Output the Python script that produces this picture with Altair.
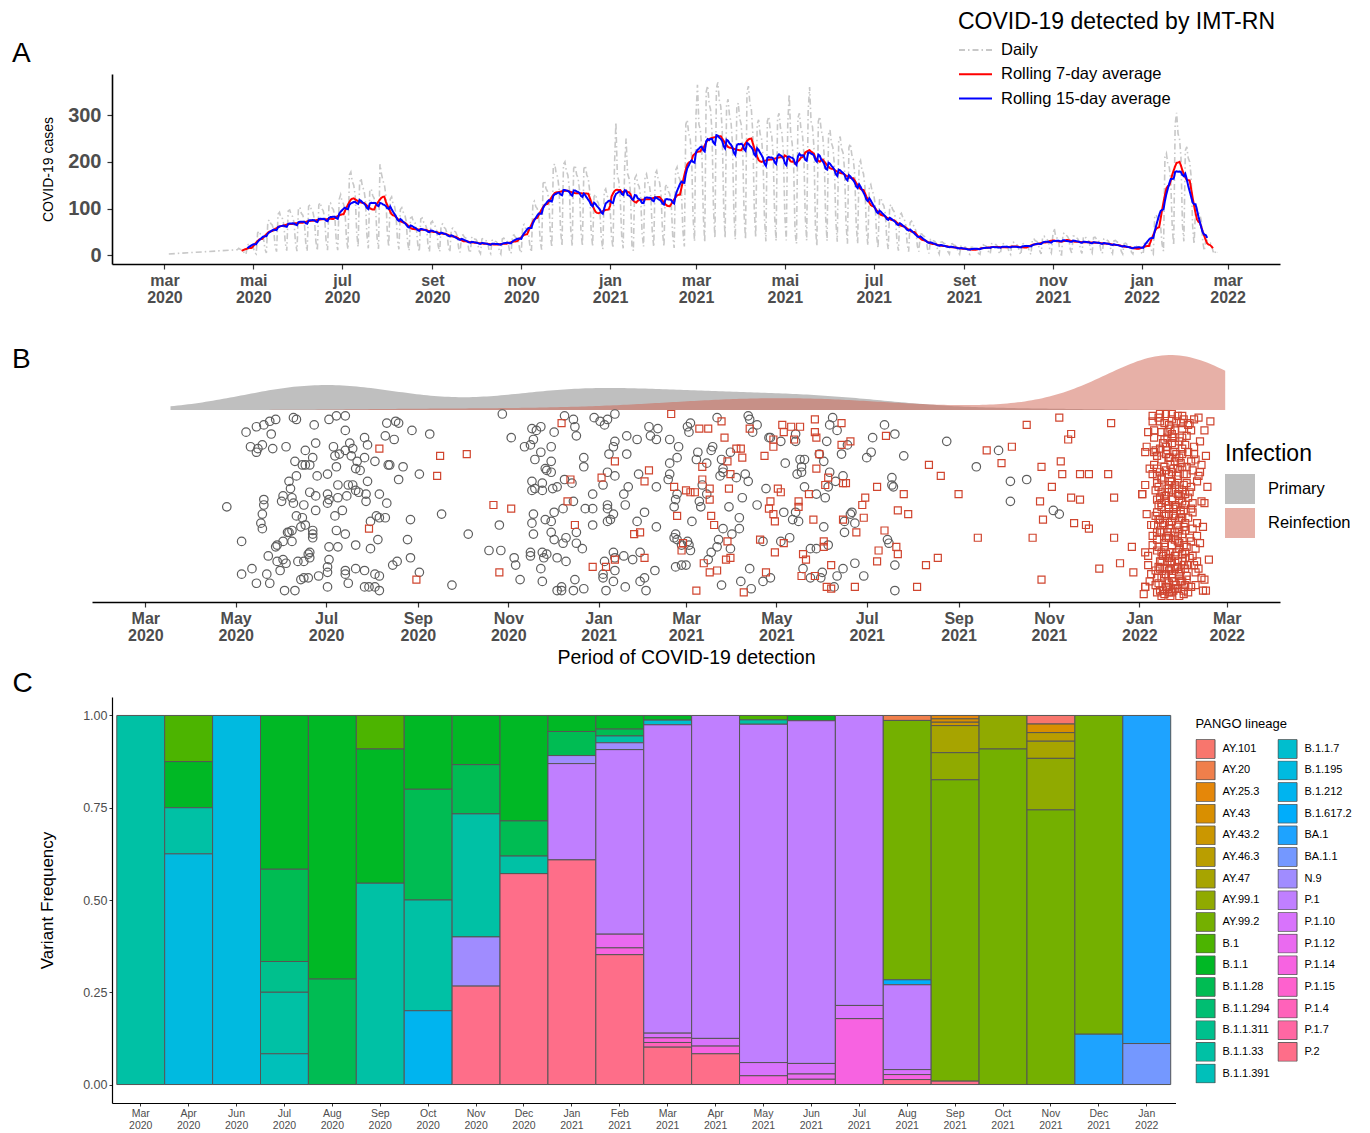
import math
import altair as alt
import pandas as pd

FONT = "Liberation Sans, Arial, Helvetica, sans-serif"

# ---------------- Panel A : daily COVID-19 cases ----------------
A_EARLY_DATES = ["2020-03-04"]
A_EARLY_CASES = [3]
A_DAILY_START = "2020-04-20"          # a Monday; weekly rows Mon..Sun
A_WEEKS = [
    [12, 15, 13, 12, 10, 4, 2], [22, 24, 20, 20, 17, 6, 3], [48, 52, 45, 44, 37, 14, 5],
    [72, 76, 68, 65, 55, 20, 8], [88, 92, 80, 79, 66, 26, 10], [95, 97, 88, 83, 70, 27, 9],
    [100, 103, 90, 86, 74, 28, 9], [105, 108, 96, 92, 77, 30, 10], [108, 113, 100, 96, 81, 31, 11],
    [110, 112, 102, 98, 83, 30, 11], [120, 130, 115, 110, 93, 35, 13], [172, 178, 158, 150, 128, 50, 18],
    [155, 165, 146, 140, 118, 45, 15], [140, 142, 128, 122, 102, 38, 14], [195, 175, 160, 152, 130, 50, 18],
    [120, 125, 110, 105, 88, 34, 13], [98, 102, 92, 88, 73, 27, 10], [80, 82, 72, 70, 58, 22, 8],
    [78, 80, 71, 68, 58, 22, 8], [70, 73, 65, 62, 52, 20, 8], [65, 67, 60, 57, 48, 18, 7],
    [56, 58, 52, 50, 42, 16, 6], [42, 44, 39, 37, 31, 12, 5], [38, 40, 35, 34, 28, 10, 4],
    [35, 36, 33, 31, 26, 10, 4], [32, 34, 30, 29, 24, 9, 3], [35, 37, 32, 31, 26, 10, 4],
    [42, 44, 39, 37, 31, 12, 5], [63, 66, 58, 56, 47, 18, 7], [112, 116, 104, 100, 84, 32, 12],
    [154, 160, 143, 137, 115, 44, 17], [190, 196, 175, 168, 142, 54, 20], [195, 200, 180, 172, 145, 55, 19],
    [186, 193, 173, 166, 140, 53, 20], [185, 192, 172, 165, 138, 53, 19], [126, 131, 117, 112, 95, 36, 13],
    [137, 142, 127, 122, 103, 39, 16], [190, 285, 170, 160, 120, 40, 15], [190, 250, 175, 165, 135, 20, 10],
    [165, 171, 153, 147, 124, 47, 19], [168, 174, 156, 150, 126, 48, 18], [175, 181, 163, 156, 131, 50, 19],
    [147, 152, 137, 131, 110, 42, 16], [182, 189, 169, 162, 137, 52, 19], [280, 290, 260, 250, 210, 80, 30],
    [301, 365, 280, 269, 226, 86, 28], [350, 363, 325, 312, 263, 100, 37], [357, 370, 332, 319, 268, 102, 37],
    [322, 334, 299, 287, 242, 92, 34], [315, 326, 293, 281, 236, 90, 34], [350, 362, 325, 313, 262, 100, 38],
    [280, 290, 260, 250, 210, 80, 30], [287, 297, 267, 256, 215, 82, 31], [294, 304, 273, 262, 221, 84, 32],
    [280, 345, 260, 240, 200, 50, 25], [294, 304, 273, 262, 221, 84, 32], [308, 360, 286, 275, 231, 60, 20],
    [287, 297, 267, 256, 215, 82, 31], [259, 268, 240, 231, 194, 74, 29], [245, 254, 228, 219, 184, 70, 25],
    [231, 239, 215, 206, 173, 66, 25], [196, 203, 182, 175, 147, 56, 21], [147, 152, 137, 131, 110, 42, 16],
    [119, 123, 111, 106, 89, 34, 13], [105, 109, 98, 94, 79, 30, 10], [87, 90, 81, 78, 65, 25, 8],
    [70, 73, 65, 62, 52, 20, 8], [45, 46, 42, 40, 34, 13, 4], [34, 35, 31, 30, 25, 10, 3],
    [28, 29, 26, 25, 21, 8, 3], [24, 25, 22, 21, 18, 7, 2], [20, 20, 18, 18, 15, 5, 2],
    [17, 17, 16, 15, 13, 4, 2], [22, 23, 21, 20, 17, 6, 3], [25, 26, 23, 23, 19, 7, 3],
    [24, 25, 22, 21, 18, 7, 2], [27, 28, 25, 24, 20, 8, 1], [24, 25, 22, 21, 18, 7, 2],
    [34, 35, 31, 30, 25, 10, 3], [39, 41, 36, 35, 29, 11, 5], [42, 58, 39, 37, 31, 2, 1],
    [46, 48, 43, 41, 35, 13, 5], [41, 42, 38, 36, 30, 12, 4], [39, 41, 36, 35, 29, 11, 5],
    [38, 39, 35, 34, 28, 11, 4], [35, 36, 33, 31, 26, 10, 4], [31, 32, 29, 27, 23, 9, 3],
    [25, 26, 23, 23, 19, 7, 3], [20, 20, 18, 18, 15, 5, 2], [28, 29, 26, 25, 21, 8, 3],
    [84, 87, 78, 75, 63, 24, 9], [210, 218, 195, 188, 158, 60, 21], [280, 305, 260, 250, 210, 65, 30],
    [224, 232, 208, 200, 168, 64, 24], [98, 102, 91, 88, 73, 28, 10], [31, 32, 29, 27, 23, 9, 3],
]
A_TAIL = [10, 6]
A_SERIES = ["Daily", "Rolling 7-day average", "Rolling 15-day average"]
A_COLORS = ["#C8C8C8", "#FF0000", "#0000FF"]
PT_MONTHS = ["jan", "fev", "mar", "abr", "mai", "jun", "jul", "ago", "set", "out", "nov", "dez"]
EN_MONTHS = ["Jan", "Feb", "Mar", "Apr", "May", "Jun", "Jul", "Aug", "Sep", "Oct", "Nov", "Dec"]

# ---------------- Panel B : detections (day since 2020-03-01, vertical jitter 0-100) ----------------
INFECTION = ["Primary", "Reinfection"]
PRIMARY_POINTS = [
    (55, 49), (68, 90), (75, 93), (80, 94), (84, 96), (88, 97), (85, 89), (100, 98), (102, 97), (114, 94),
    (124, 97), (129, 99), (135, 99), (135, 91), (148, 87), (150, 83), (163, 95), (169, 96), (171, 95), (162, 88),
    (168, 86), (180, 91), (71, 82), (75, 79), (76, 81), (79, 83), (86, 81), (95, 82), (108, 80), (115, 84),
    (127, 82), (128, 77), (135, 80), (138, 84), (140, 81), (139, 77), (131, 78), (148, 76), (155, 74), (164, 72),
    (165, 72), (174, 71), (185, 67), (171, 64), (101, 74), (106, 72), (108, 72), (111, 72), (113, 76), (129, 71),
    (143, 74), (142, 70), (145, 69), (150, 63), (102, 66), (97, 63), (98, 59), (116, 66), (123, 67), (130, 61),
    (137, 61), (140, 61), (142, 58), (144, 57), (149, 56), (158, 56), (80, 53), (80, 50), (79, 45), (78, 40),
    (79, 37), (93, 55), (92, 52), (99, 54), (100, 51), (107, 50), (111, 57), (115, 55), (115, 47), (123, 56),
    (124, 53), (123, 51), (130, 54), (136, 55), (149, 52), (163, 51), (133, 47), (128, 44), (102, 44), (106, 43),
    (156, 44), (158, 43), (162, 43), (179, 42), (152, 41), (105, 38), (108, 39), (113, 36), (113, 34), (113, 32),
    (99, 36), (97, 35), (96, 35), (129, 36), (135, 34), (157, 31), (177, 31), (65, 30), (89, 28), (88, 27),
    (93, 30), (99, 30), (111, 24), (110, 23), (111, 21), (124, 27), (130, 27), (142, 28), (152, 26), (83, 22),
    (89, 19), (93, 20), (95, 18), (103, 19), (107, 19), (124, 20), (123, 16), (170, 19), (167, 17), (179, 21),
    (185, 13), (65, 12), (72, 15), (82, 12), (75, 7), (84, 7), (91, 14), (107, 10), (110, 10), (105, 9),
    (117, 11), (123, 13), (135, 14), (135, 12), (137, 7), (142, 15), (148, 14), (155, 12), (158, 11), (148, 5),
    (151, 5), (155, 5), (158, 3), (94, 3), (101, 3), (123, 5),
    (192, 89), (241, 100), (247, 87), (200, 45), (218, 34), (239, 39), (232, 25), (240, 25), (207, 6), (249, 21),
    (250, 17), (253, 9), (256, 82), (260, 83), (262, 86), (261, 92), (264, 91), (267, 93), (276, 90), (283, 99),
    (289, 97), (290, 93), (291, 88), (303, 98), (307, 96), (310, 94), (312, 97), (317, 100), (317, 85), (316, 82),
    (325, 88), (267, 79), (263, 75), (274, 82), (274, 74), (270, 70), (271, 69), (274, 68), (296, 76), (296, 71),
    (313, 78), (312, 68), (317, 66), (325, 78), (261, 63), (268, 62), (261, 58), (263, 59), (268, 58), (275, 59),
    (278, 60), (283, 64), (288, 62), (309, 61), (302, 56), (323, 56), (326, 60), (289, 52), (282, 48), (276, 46),
    (262, 45), (297, 48), (302, 48), (312, 50), (312, 48), (316, 45), (324, 50), (261, 40), (270, 42), (274, 41),
    (291, 35), (302, 39), (312, 41), (314, 42), (262, 34), (274, 35), (276, 31), (282, 29), (284, 32), (291, 29),
    (295, 26), (260, 24), (260, 22), (268, 24), (269, 21), (271, 23), (278, 21), (284, 19), (316, 24), (317, 21),
    (323, 22), (310, 19), (267, 15), (317, 14), (309, 12), (309, 10), (268, 8), (290, 9), (316, 8), (278, 3),
    (281, 5), (281, 3), (289, 3), (296, 4), (311, 3), (324, 5),
    (332, 86), (340, 93), (346, 92), (341, 88), (345, 86), (354, 86), (360, 82), (359, 76), (354, 73), (354, 67),
    (353, 64), (333, 67), (345, 60), (366, 93), (368, 95), (367, 90), (386, 98), (407, 99), (408, 97), (410, 90),
    (413, 94), (383, 82), (382, 80), (372, 75), (373, 79), (379, 73), (395, 79), (389, 75), (390, 70), (390, 68),
    (388, 66), (399, 65), (405, 67), (407, 63), (421, 87), (422, 87), (429, 85), (439, 89), (439, 85), (432, 73),
    (442, 75), (445, 75), (443, 71), (443, 68), (440, 67), (455, 78), (458, 74), (460, 85), (462, 94), (464, 98),
    (462, 68), (359, 56), (358, 53), (357, 49), (376, 61), (379, 56), (374, 52), (375, 49), (403, 54), (394, 49),
    (413, 50), (419, 59), (445, 60), (453, 56), (461, 60), (459, 54), (431, 46), (439, 46), (437, 42), (441, 41),
    (458, 38), (337, 46), (332, 41), (345, 38), (369, 41), (390, 37), (396, 34), (401, 37), (401, 43), (358, 34),
    (357, 32), (359, 31), (366, 30), (367, 28), (368, 25), (362, 28), (387, 31), (386, 27), (395, 26), (417, 30),
    (435, 32), (429, 30), (461, 28), (334, 24), (329, 20), (344, 14), (337, 10), (334, 8), (338, 3), (358, 16),
    (362, 17), (365, 17), (382, 24), (380, 20), (408, 15), (389, 6), (402, 8), (409, 4), (422, 10), (417, 8),
    (444, 15), (449, 10), (457, 13), (456, 10), (453, 26), (449, 26),
    (467, 91), (470, 78), (474, 83), (471, 66), (466, 63), (499, 94), (491, 87), (506, 89), (490, 79), (487, 76),
    (512, 77), (504, 65), (504, 61), (505, 60), (477, 46), (476, 45), (472, 41), (479, 40), (472, 35), (501, 31),
    (502, 29), (479, 18), (471, 15), (467, 11), (485, 11), (506, 17), (506, 3), (541, 85), (561, 71), (576, 80),
    (584, 63), (584, 52), (595, 64), (465, 5), (613, 47), (617, 45),
]
REINFECTION_POINTS = [
    (158, 81), (151, 37), (183, 9), (199, 77), (217, 78), (197, 66), (235, 50), (247, 48), (239, 13), (281, 95),
    (287, 64), (317, 74), (308, 65), (285, 52), (290, 39), (302, 16), (311, 16), (317, 20),
    (355, 100), (340, 69), (337, 63), (357, 60), (365, 58), (368, 57), (371, 57), (381, 59), (381, 53), (359, 44),
    (382, 44), (384, 39), (374, 92), (380, 92), (389, 96), (391, 87), (376, 71), (376, 64), (393, 74), (395, 67),
    (394, 59), (399, 81), (402, 81), (403, 76), (408, 92), (418, 77), (424, 86), (424, 82), (430, 94), (431, 90),
    (436, 93), (442, 93), (438, 86), (452, 97), (452, 90), (453, 87), (455, 78), (453, 70), (461, 65), (459, 61),
    (427, 59), (429, 57), (422, 52), (421, 48), (424, 45), (425, 41), (441, 52), (441, 49), (448, 56), (451, 42),
    (330, 34), (334, 35), (337, 21), (362, 25), (363, 29), (393, 30), (392, 20), (395, 21), (377, 18), (381, 13),
    (386, 14), (372, 3), (404, 2), (415, 31), (425, 24), (431, 29), (419, 13), (444, 23), (446, 20), (443, 11),
    (452, 11), (458, 30), (458, 27), (463, 17), (460, 5), (463, 4),
    (470, 95), (470, 83), (476, 85), (500, 88), (471, 62), (473, 62), (494, 60), (486, 54), (484, 50), (512, 56),
    (508, 47), (515, 45), (485, 43), (471, 42), (480, 35), (499, 36), (495, 25), (507, 27), (508, 23), (494, 19),
    (479, 5), (527, 17), (535, 21), (521, 5), (529, 72), (537, 66), (549, 56), (562, 32), (568, 80), (585, 82),
    (578, 73), (595, 94),
    (617, 98), (652, 95), (625, 89), (623, 86), (605, 71), (618, 74), (619, 67), (631, 67), (637, 67), (650, 67),
    (612, 60), (604, 52), (625, 54), (631, 53), (654, 54), (606, 42), (599, 32), (627, 40), (635, 39), (637, 37),
    (654, 32), (673, 56), (666, 27), (644, 15), (658, 18), (667, 13), (605, 9), (675, 5),
    (680, 99), (685, 100), (689, 100), (693, 100), (697, 99), (701, 97), (708, 97), (711, 98), (715, 91), (681, 91),
    (681, 87), (676, 82), (675, 79), (681, 79), (689, 82), (695, 83), (702, 83), (708, 82), (708, 78), (709, 75),
    (713, 72), (712, 68), (703, 71), (703, 67), (681, 72), (680, 67), (683, 66), (675, 61), (686, 64), (691, 61),
    (701, 61), (702, 56), (673, 56), (682, 58), (689, 55), (700, 52), (707, 51), (715, 51), (707, 46), (684, 50),
    (683, 46), (688, 44), (679, 39), (681, 39), (710, 40), (702, 36), (695, 35), (686, 35), (683, 31), (680, 28),
    (675, 24), (677, 22), (683, 25), (689, 23), (702, 24), (709, 26), (707, 22), (710, 19), (704, 17), (695, 15),
    (685, 15), (682, 14), (683, 10), (675, 5), (682, 6), (689, 5), (691, 2), (695, 4), (702, 6), (709, 13),
    (715, 9), (716, 3), (701, 28), (701, 17), (693, 10), (699, 8), (709, 6), (688, 39), (695, 43), (691, 50),
    (697, 56), (693, 68), (698, 76), (691, 76), (690, 87), (695, 91), (700, 92), (691, 94), (686, 90), (691, 67),
    (697, 64), (686, 57), (699, 47), (702, 40), (691, 32), (697, 30), (688, 27), (695, 22), (690, 19), (699, 14),
    (685, 3), (704, 2), (692, 0), (698, 0), (686, 0), (674, 1), (677, 17), (694, 79), (700, 87), (688, 71),
    (683, 77), (693, 41), (685, 54), (706, 60), (711, 66), (713, 10), (710, 33), (706, 30), (700, 43), (698, 59),
    (693, 19), (689, 12), (685, 19), (683, 35), (695, 50), (691, 45), (697, 70), (685, 96), (693, 97), (699, 95),
    (704, 94), (691, 57), (702, 50), (693, 63), (689, 32), (698, 26), (700, 19), (694, 8), (691, 14), (703, 11),
    (690, 5), (685, 68), (700, 81), (693, 89), (689, 78), (698, 36), (690, 35), (697, 33), (686, 49), (701, 67),
    (683, 62), (693, 84), (695, 74), (692, 72), (700, 78), (685, 81), (688, 86), (693, 58), (689, 52), (698, 53),
    (685, 42), (691, 39), (694, 48), (698, 42), (686, 24), (692, 24), (697, 19), (702, 21), (692, 15), (688, 15),
    (698, 11), (694, 3), (701, 3), (690, 8), (684, 7),
    (684, 98), (688, 95), (692, 92), (696, 96), (700, 99), (705, 95), (690, 90), (694, 87), (698, 85), (703, 88),
    (687, 84), (682, 80), (690, 80), (696, 78), (704, 79), (686, 75), (692, 76), (699, 73), (706, 74), (683, 70),
    (689, 69), (694, 70), (700, 71), (707, 69), (686, 65), (692, 63), (697, 66), (703, 62), (710, 63), (684, 60),
    (690, 59), (695, 61), (700, 58), (705, 57), (688, 55), (693, 53), (698, 55), (704, 54), (683, 53), (686, 51),
    (691, 48), (696, 49), (701, 47), (706, 48), (689, 45), (694, 44), (699, 45), (704, 43), (684, 42), (687, 40),
    (692, 37), (697, 39), (701, 38), (707, 37), (685, 36), (690, 33), (695, 31), (700, 34), (705, 32), (688, 29),
    (693, 28), (698, 29), (703, 27), (684, 27), (687, 22), (691, 21), (696, 24), (700, 23), (705, 21), (686, 19),
    (692, 18), (697, 16), (702, 15), (708, 17), (684, 16), (688, 12), (693, 12), (698, 13), (703, 9), (686, 10),
    (691, 7), (696, 6), (700, 8), (706, 5), (687, 3), (693, 2), (697, 4), (701, 1), (688, 1), (682, 44),
    (680, 33), (679, 12), (678, 70), (677, 90), (712, 85), (713, 52), (714, 38), (712, 29), (711, 15), (714, 3),
    (718, 20), (719, 96), (717, 60), (676, 45), (678, 8), (680, 96), (716, 77), (683, 2), (706, 91),
]

# ---------------- Panel C : PANGO lineage counts per month ----------------
LINEAGES = ["AY.101", "AY.20", "AY.25.3", "AY.43", "AY.43.2", "AY.46.3", "AY.47", "AY.99.1", "AY.99.2",
            "B.1", "B.1.1", "B.1.1.28", "B.1.1.294", "B.1.1.311", "B.1.1.33", "B.1.1.391",
            "B.1.1.7", "B.1.195", "B.1.212", "B.1.617.2", "BA.1", "BA.1.1", "N.9",
            "P.1", "P.1.10", "P.1.12", "P.1.14", "P.1.15", "P.1.4", "P.1.7", "P.2"]
C_MONTHS = ["Mar 2020", "Apr 2020", "Jun 2020", "Jul 2020", "Aug 2020", "Sep 2020", "Oct 2020",
            "Nov 2020", "Dec 2020", "Jan 2021", "Feb 2021", "Mar 2021", "Apr 2021", "May 2021",
            "Jun 2021", "Jul 2021", "Aug 2021", "Sep 2021", "Oct 2021", "Nov 2021", "Dec 2021", "Jan 2022"]
C_COUNTS = [
    [("B.1.1.33", 1)],
    [("B.1", 1), ("B.1.1", 1), ("B.1.1.33", 1), ("B.1.195", 5)],
    [("B.1.195", 1)],
    [("B.1.1", 5), ("B.1.1.28", 3), ("B.1.1.311", 1), ("B.1.1.33", 2), ("B.1.1.391", 1)],
    [("B.1.1", 5), ("B.1.1.28", 2)],
    [("B.1", 1), ("B.1.1", 4), ("B.1.1.33", 6)],
    [("B.1.1", 2), ("B.1.1.28", 3), ("B.1.1.33", 3), ("B.1.212", 2)],
    [("B.1.1", 2), ("B.1.1.28", 2), ("B.1.1.33", 5), ("N.9", 2), ("P.2", 4)],
    [("B.1.1", 6), ("B.1.1.28", 2), ("B.1.1.33", 1), ("P.2", 12)],
    [("B.1.1", 2), ("B.1.1.28", 3), ("N.9", 1), ("P.1", 12), ("P.2", 28)],
    [("B.1.1", 2), ("B.1.1.28", 1), ("B.1.1.33", 1), ("N.9", 1), ("P.1", 27), ("P.1.12", 2), ("P.1.14", 1), ("P.2", 19)],
    [("B.1.1", 1), ("B.1.1.7", 1), ("P.1", 66), ("P.1.10", 1), ("P.1.14", 1), ("P.1.4", 1), ("P.2", 8)],
    [("P.1", 42), ("P.1.10", 1), ("P.1.14", 1), ("P.2", 4)],
    [("B.1", 1), ("B.1.1.33", 1), ("P.1", 77), ("P.1.10", 3), ("P.1.14", 2)],
    [("B.1.1", 1), ("P.1", 65), ("P.1.10", 2), ("P.1.12", 1), ("P.1.14", 1)],
    [("P.1", 22), ("P.1.10", 1), ("P.1.14", 5)],
    [("AY.20", 1), ("AY.99.2", 52), ("B.1.617.2", 1), ("P.1", 17), ("P.1.10", 1), ("P.1.14", 1), ("P.2", 1)],
    [("AY.25.3", 1), ("AY.43", 1), ("AY.43.2", 1), ("AY.47", 8), ("AY.99.1", 8), ("AY.99.2", 89), ("P.2", 1)],
    [("AY.99.1", 1), ("AY.99.2", 10)],
    [("AY.101", 1), ("AY.43", 1), ("AY.46.3", 1), ("AY.47", 2), ("AY.99.1", 6), ("AY.99.2", 32)],
    [("AY.99.2", 19), ("BA.1", 3)],
    [("BA.1", 8), ("BA.1.1", 1)],
]


# ---- ggplot-like hue palette (style) ----
def hcl_hex(h, c=100.0, l=65.0):
    hr = math.radians(h)
    u, v = c * math.cos(hr), c * math.sin(hr)
    xn, yn, zn = 95.047, 100.0, 108.883
    den = xn + 15 * yn + 3 * zn
    un, vn = 4 * xn / den, 9 * yn / den
    Y = yn * ((l + 16) / 116) ** 3
    up, vp = u / (13 * l) + un, v / (13 * l) + vn
    X = 9 * Y * up / (4 * vp)
    Z = Y * (12 - 3 * up - 20 * vp) / (4 * vp)
    X, Y, Z = X / 100, Y / 100, Z / 100
    rgb = (3.2404542 * X - 1.5371385 * Y - 0.4985314 * Z,
           -0.9692660 * X + 1.8760108 * Y + 0.0415560 * Z,
           0.0556434 * X - 0.2040259 * Y + 1.0572252 * Z)

    def gam(t):
        t = min(max(t, 0.0), 1.0)
        return 1.055 * t ** (1 / 2.4) - 0.055 if t > 0.0031308 else 12.92 * t
    return "#%02X%02X%02X" % tuple(int(round(255 * gam(t))) for t in rgb)


N_LIN = len(LINEAGES)
LIN_COLORS = [hcl_hex(15 + 360.0 * i / N_LIN) for i in range(N_LIN)]

# ================= build Panel A =================
daily_vals = [v for w in A_WEEKS for v in w] + A_TAIL
dfA_daily = pd.DataFrame({"date": pd.date_range(A_DAILY_START, periods=len(daily_vals), freq="D"),
                          "cases": daily_vals})
dfA_early = pd.DataFrame({"date": pd.to_datetime(A_EARLY_DATES), "cases": A_EARLY_CASES})
dfA_all = pd.concat([dfA_early, dfA_daily], ignore_index=True)
dfA_all["series"] = A_SERIES[0]

DOMAIN_X = [alt.DateTime(year=2020, month=1, date=25), alt.DateTime(year=2022, month=4, date=6)]

pt_list = ",".join("'%s'" % m for m in PT_MONTHS)
en_list = ",".join("'%s'" % m for m in EN_MONTHS)
PT_EXPR = "[[%s][month(datum.value)], timeFormat(datum.value, '%%Y')]" % pt_list
EN_EXPR = "[[%s][month(datum.value)], timeFormat(datum.value, '%%Y')]" % en_list

axis_common = dict(grid=False, domainColor="black", domainWidth=1.6, tickColor="#333333", tickWidth=1.2,
                   labelFont=FONT, titleFont=FONT)

axisA_x = alt.Axis(tickCount={"interval": "month", "step": 2}, labelExpr=PT_EXPR, labelFontSize=16,
                   labelFontWeight="bold", labelColor="#4D4D4D", labelLineHeight=17, labelPadding=3,
                   labelBaseline="top", labelFlush=False, labelOverlap=False, labelBound=False, tickSize=5,
                   title=None, **axis_common)
axisA_y = alt.Axis(values=[0, 100, 200, 300], labelFontSize=20, labelFontWeight="bold", labelColor="#4D4D4D",
                   tickSize=5, labelPadding=6, titleFontSize=14, titleFontWeight="normal", titleColor="black",
                   titlePadding=12, **axis_common)

legA = alt.Legend(title="COVID-19 detected by IMT-RN", orient="none", legendX=846, legendY=-63,
                  symbolType="M-1,0H2", symbolSize=484, symbolStrokeWidth=2, labelFontSize=16.5,
                  titleFontSize=23, titleFontWeight="normal", titleColor="black", labelColor="black",
                  labelOffset=19, rowPadding=3.3, titlePadding=4, labelFont=FONT, titleFont=FONT,
                  labelLimit=400, titleLimit=500)

xA = alt.X("date:T", scale=alt.Scale(domain=DOMAIN_X), axis=axisA_x)
yscaleA = alt.Scale(domain=[-18.5, 388], nice=False, zero=False)
colA = alt.Color("series:N", scale=alt.Scale(domain=A_SERIES, range=A_COLORS), legend=legA)
dashA = alt.StrokeDash("series:N", scale=alt.Scale(domain=A_SERIES, range=[[6, 3, 1.5, 3], [1, 0], [1, 0]]),
                       legend=legA)

a_daily = alt.Chart(dfA_all).mark_line(strokeWidth=1.6).encode(
    x=xA, y=alt.Y("cases:Q", scale=yscaleA, axis=axisA_y, title="COVID-19 cases"),
    color=colA, strokeDash=dashA)

a_r7 = alt.Chart(dfA_daily).transform_window(
    avg="mean(cases)", n="count(cases)", frame=[-3, 3], sort=[{"field": "date"}]
).transform_filter("datum.n == 7").transform_calculate(series="'%s'" % A_SERIES[1]).mark_line(strokeWidth=2).encode(
    x=xA, y=alt.Y("avg:Q", scale=yscaleA, axis=axisA_y, title="COVID-19 cases"), color=colA, strokeDash=dashA)

a_r15 = alt.Chart(dfA_daily).transform_window(
    avg="mean(cases)", n="count(cases)", frame=[-7, 7], sort=[{"field": "date"}]
).transform_filter("datum.n == 15").transform_calculate(series="'%s'" % A_SERIES[2]).mark_line(strokeWidth=2).encode(
    x=xA, y=alt.Y("avg:Q", scale=yscaleA, axis=axisA_y, title="COVID-19 cases"), color=colA, strokeDash=dashA)


def letter(txt, dx, dy):
    return alt.Chart(pd.DataFrame({"label": [txt]})).mark_text(
        align="left", baseline="alphabetic", fontSize=28, font=FONT, color="black"
    ).encode(x=alt.value(dx), y=alt.value(dy), text="label:N")


chartA = alt.layer(a_daily, a_r7, a_r15, letter("A", -100, -12)).properties(width=1168, height=190)

# ================= build Panel B =================
dfP = pd.DataFrame(PRIMARY_POINTS, columns=["day", "jit"])
dfP["infection"] = INFECTION[0]
dfR = pd.DataFrame(REINFECTION_POINTS, columns=["day", "jit"])
dfR["infection"] = INFECTION[1]
dfB = pd.concat([dfP, dfR], ignore_index=True)
dfB["date"] = pd.Timestamp("2020-03-01") + pd.to_timedelta(dfB["day"], unit="D")

xscaleB = alt.Scale(domain=DOMAIN_X, range=[-20, 1168])
axisB_x = alt.Axis(tickCount={"interval": "month", "step": 2}, labelExpr=EN_EXPR, labelFontSize=16,
                   labelFontWeight="bold", labelColor="#4D4D4D", labelLineHeight=17, labelPadding=3,
                   labelBaseline="top", labelFlush=False, labelOverlap=False, labelBound=False, tickSize=5,
                   titleFontSize=19.5, titleFontWeight="normal", titleColor="black", titlePadding=5,
                   **axis_common)
legB = alt.Legend(title="Infection", orient="none", legendX=1113, legendY=93, symbolType="square",
                  symbolSize=900, symbolOpacity=0.5, symbolStrokeWidth=0, labelFontSize=16.5,
                  titleFontSize=23, titleFontWeight="normal", titleColor="black", labelColor="black",
                  labelOffset=13, rowPadding=4, titlePadding=8, labelFont=FONT, titleFont=FONT)

b_area = alt.Chart(dfB).transform_density(
    "day", groupby=["infection"], extent=[17, 729], steps=300, as_=["value", "density"]
).transform_calculate(t="time(datetime(2020, 2, 1)) + datum.value * 86400000").mark_area(opacity=0.5).encode(
    x=alt.X("t:T", scale=xscaleB, axis=axisB_x, title="Period of COVID-19 detection"),
    y=alt.Y("density:Q", stack=None, scale=alt.Scale(range=[60, 5], nice=False, zero=True), axis=None),
    fill=alt.Fill("infection:N", scale=alt.Scale(domain=INFECTION, range=["#7F7F7F", "#D0624F"]), legend=legB),
)

b_pts = alt.Chart(dfB).mark_point(filled=False, strokeWidth=1.2, opacity=1).encode(
    x=alt.X("date:T", scale=xscaleB, axis=axisB_x, title="Period of COVID-19 detection"),
    y=alt.Y("jit:Q", scale=alt.Scale(domain=[0, 100], range=[246, 64], nice=False, zero=False), axis=None),
    shape=alt.Shape("infection:N", scale=alt.Scale(domain=INFECTION, range=["circle", "square"]), legend=None),
    stroke=alt.Stroke("infection:N", scale=alt.Scale(domain=INFECTION, range=["#5E5E5E", "#D0452F"]), legend=None),
    size=alt.Size("infection:N", scale=alt.Scale(domain=INFECTION, range=[72, 49]), legend=None),
)

chartB = alt.layer(b_area, b_pts, letter("B", -100, 18)).resolve_scale(
    y="independent", shape="independent", stroke="independent", size="independent"
).properties(width=1168, height=252)

# ================= build Panel C =================
rows = []
for m, lst in zip(C_MONTHS, C_COUNTS):
    for lin, cnt in lst:
        rows.append({"month": m, "lineage": lin, "count": cnt, "idx": LINEAGES.index(lin)})
dfC = pd.DataFrame(rows)

legC = alt.Legend(title="PANGO lineage", orient="none", legendX=1083.5, legendY=21, columns=2,
                  symbolType="square", symbolSize=361, symbolStrokeColor="#555555", symbolStrokeWidth=1,
                  symbolOpacity=1, labelFontSize=11, titleFontSize=13, titleFontWeight="normal",
                  titleColor="black", labelColor="black", labelOffset=7, rowPadding=1.65, columnPadding=7,
                  clipHeight=19.5, titlePadding=8, labelFont=FONT, titleFont=FONT, symbolLimit=0,
                  labelLimit=200)

chartC_bars = alt.Chart(dfC).mark_bar(stroke="#555555", strokeWidth=1).encode(
    x=alt.X("month:N", sort=C_MONTHS, scale=alt.Scale(paddingInner=0, paddingOuter=0.1),
            axis=alt.Axis(labelExpr="split(datum.label, ' ')", labelFontSize=10.5, labelColor="#4D4D4D",
                          labelLineHeight=12, labelBaseline="top", labelPadding=2, labelAngle=0, tickSize=3,
                          grid=False, domainColor="black", domainWidth=1.2, tickColor="#333333",
                          labelFont=FONT, title=None)),
    y=alt.Y("count:Q", stack="normalize", scale=alt.Scale(domain=[-0.05, 1.05], nice=False, zero=False),
            axis=alt.Axis(values=[0, 0.25, 0.5, 0.75, 1], labelExpr="format(datum.value, '.2f')",
                          labelFontSize=12.5, labelColor="#4D4D4D", tickSize=3, labelPadding=2, grid=False,
                          domainColor="black", domainWidth=1.2, tickColor="#333333", labelFont=FONT,
                          titleFont=FONT, titleFontSize=17, titleFontWeight="normal", titleColor="black",
                          titlePadding=26),
            title="Variant Frequency"),
    color=alt.Color("lineage:N", scale=alt.Scale(domain=LINEAGES, range=LIN_COLORS), legend=legC),
    order=alt.Order("idx:Q", sort="descending"),
)

chartC = alt.layer(chartC_bars, letter("C", -99.5, -5.5)).properties(width=1063.5, height=406)

RES = dict(color="independent", strokeDash="independent", fill="independent", stroke="independent",
           shape="independent", size="independent")
inner = alt.vconcat(chartB, chartC, spacing=2).resolve_scale(**RES)
chart = alt.vconcat(chartA, inner, spacing=41).resolve_scale(**RES).properties(
    padding={"left": 4, "top": 3, "right": 0, "bottom": 0}
).configure(font=FONT).configure_view(stroke=None)

chart.save("out.html", embed_options={"renderer": "svg", "actions": False})
